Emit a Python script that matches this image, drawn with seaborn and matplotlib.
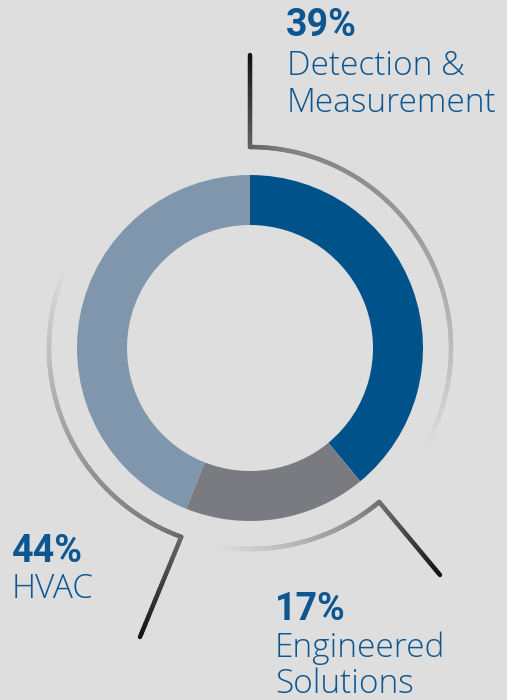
import numpy as np
import matplotlib
matplotlib.use("Agg")
import matplotlib.pyplot as plt
import seaborn as sns
from matplotlib.collections import LineCollection
from matplotlib.colors import to_rgb

# ---- data ----
categories = ["Detection &\nMeasurement", "Engineered\nSolutions", "HVAC"]
shares = [39, 17, 44]
pct_labels = ["39%", "17%", "44%"]
colors = ["#00528A", "#7A7B80", "#7F96AC"]

BG = "#DEDEDE"
TXT = "#0D5690"

sns.set_theme(style="white")
plt.rcParams["font.family"] = ["Roboto", "DejaVu Sans"]

W, H = 507, 700
fig = plt.figure(figsize=(W / 100, H / 100), dpi=100, facecolor=BG)
ax = fig.add_axes([0, 0, 1, 1])
ax.set_facecolor(BG)

def Y(y):
    return H - y

cx, cy = 250, Y(348)
R, ring = 173, 50

ax.pie(shares, colors=colors, startangle=90, counterclock=False,
       center=(cx, cy), radius=R,
       wedgeprops=dict(width=ring, linewidth=0, edgecolor="none"))

# ---- gradient leader lines ----
def grad_path(pts, stops, lw=3.2):
    pts = np.asarray(pts, float)
    seg = np.stack([pts[:-1], pts[1:]], axis=1)
    d = np.r_[0, np.cumsum(np.hypot(*np.diff(pts, axis=0).T))]
    t = (d[:-1] + d[1:]) / 2 / d[-1]
    st = np.array([s[0] for s in stops])
    cols = np.array([to_rgb(s[1]) for s in stops])
    c = np.stack([np.interp(t, st, cols[:, k]) for k in range(3)], axis=1)
    lc = LineCollection(seg, colors=c, linewidths=lw, capstyle="round", zorder=3)
    ax.add_collection(lc)

def arc(a0, a1, r=201, n=200):
    a = np.radians(np.linspace(a0, a1, n))
    return np.c_[cx + r * np.cos(a), cy + r * np.sin(a)]

# Detection & Measurement leader
p = np.r_[np.c_[np.full(30, 250), np.linspace(Y(55), cy + 201, 30)], arc(90, -30)]
grad_path(p, [(0, "#111111"), (0.25, "#808080"), (0.55, "#9a9a9a"), (0.85, "#c4c4c4"), (1, BG)])

# Engineered Solutions leader
p = np.r_[np.c_[np.linspace(440, cx + 201 * np.cos(np.radians(-50)), 30),
                np.linspace(Y(575), cy + 201 * np.sin(np.radians(-50)), 30)], arc(-50, -100)]
grad_path(p, [(0, "#111111"), (0.45, "#8a8a8a"), (0.7, "#b5b5b5"), (1, BG)])

# HVAC leader
p = np.r_[np.c_[np.linspace(140, cx + 201 * np.cos(np.radians(-110)), 30),
                np.linspace(Y(637), cy + 201 * np.sin(np.radians(-110)), 30)], arc(-110, -205)]
grad_path(p, [(0, "#111111"), (0.3, "#7a7a7a"), (0.6, "#a0a0a0"), (0.85, "#c8c8c8"), (1, BG)])

# ---- labels ----
label_pos = [(286, 36, 287, [75, 112]),
             (275, 620, 275, [657, 693]),
             (12, 562, 12, [598])]
for (px, py, nx, nys), pct, cat in zip(label_pos, pct_labels, categories):
    ax.text(px, Y(py), pct, color=TXT, fontsize=27, fontweight="bold",
            ha="left", va="baseline")
    for line, ny in zip(cat.split("\n"), nys):
        ax.text(nx, Y(ny), line, color=TXT, fontsize=24, fontweight="light",
                family=["Open Sans", "DejaVu Sans"],
                ha="left", va="baseline")

ax.set_xlim(0, W)
ax.set_ylim(0, H)
ax.set_aspect("equal")
ax.axis("off")
fig.savefig("out.png", dpi=100, facecolor=BG)
